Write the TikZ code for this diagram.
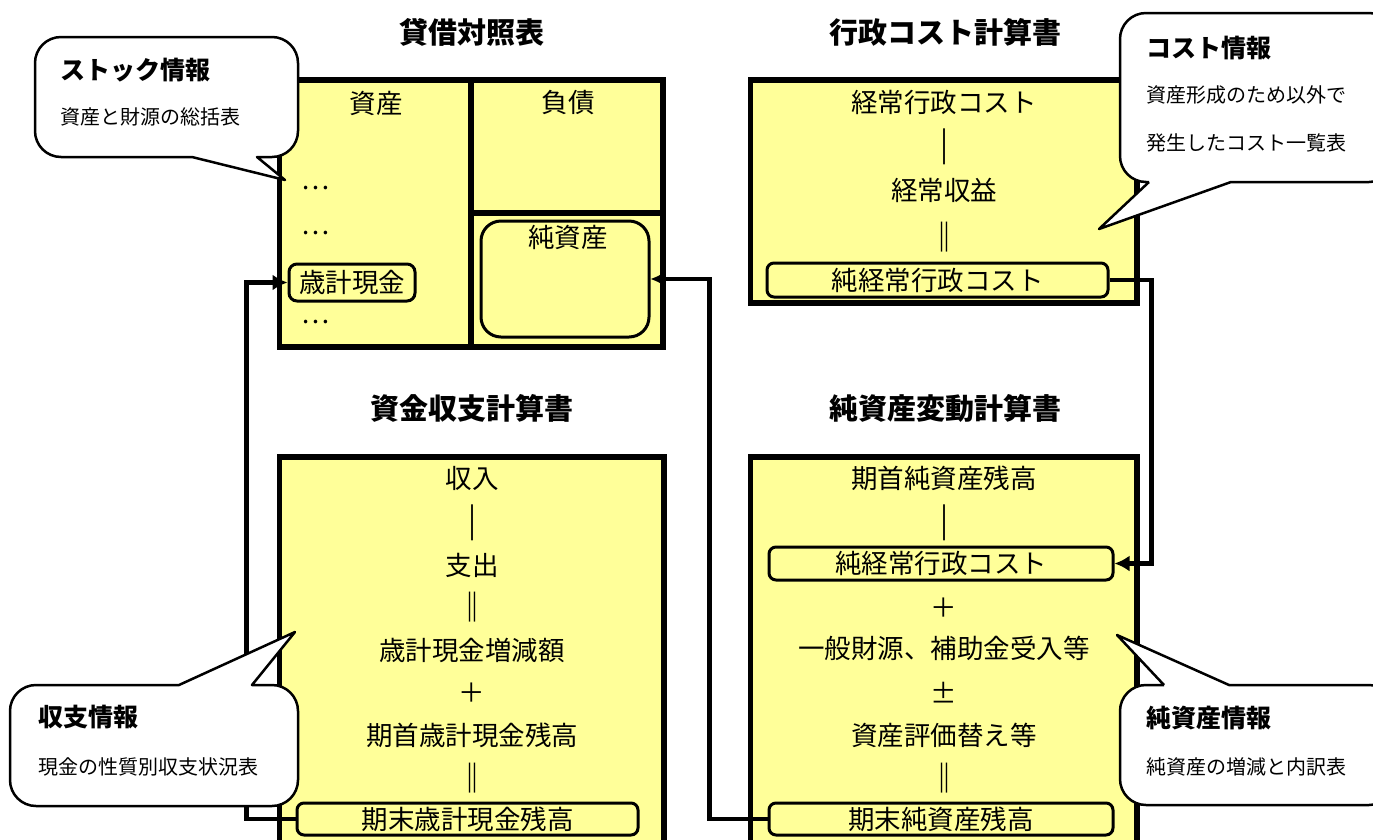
\documentclass[tikz,border=0pt]{standalone}
\usepackage{fontspec}
\setmainfont{Noto Sans CJK JP}
\usetikzlibrary{arrows.meta}
\definecolor{boxyellow}{HTML}{FFFF99}
\tikzset{
 panel/.style={draw, line width=5.5pt, fill=boxyellow, rectangle, inner sep=0pt},
 ttl/.style={font=\fontsize{29}{32}\selectfont\bfseries, inner sep=0pt},
 item/.style={font=\fontsize{26.5}{30}\selectfont, inner sep=0pt},
 bar/.style={font=\fontsize{30}{32}\selectfont\bfseries, inner sep=0pt},
 vbar/.style={font=\fontsize{36}{38}\selectfont\bfseries, inner sep=0pt},
 hl/.style={draw, line width=3pt, rounded corners=7pt, fill=boxyellow, inner sep=0pt, font=\fontsize{26.5}{30}\selectfont},
 conn/.style={line width=4.5pt, -{Latex[length=15pt,width=16pt]}},
 bub/.style={draw, line width=2.5pt, fill=white, line join=round},
 bubttl/.style={font=\fontsize{25}{28}\selectfont\bfseries, anchor=west, inner sep=0pt},
 bubtxt/.style={font=\fontsize{20}{24}\selectfont, anchor=west, inner sep=0pt},
 divider/.style={line width=5.5pt},
}
\begin{document}
\begin{tikzpicture}[x=1pt,y=-1pt]
\useasboundingbox (0,0) rectangle (1373,839);
\clip (0,0) rectangle (1373,839);
% titles
\node[ttl] (t1) at (472,32) {貸借対照表};
\node[ttl] (t2) at (945,32) {行政コスト計算書};
\node[ttl] (t3) at (472,408) {資金収支計算書};
\node[ttl] (t4) at (945,408) {純資産変動計算書};
% panels
\node[panel, minimum width=383.5pt, minimum height=267pt] (bs) at (471.25,213.5) {};
\node[panel, minimum width=386.5pt, minimum height=223pt] (pl) at (943.75,191.5) {};
\node[panel, minimum width=384.5pt, minimum height=403pt] (cf) at (471.75,658.5) {};
\node[panel, minimum width=386.5pt, minimum height=403pt] (na) at (943.75,658.5) {};
\draw[divider] (471,80) -- (471,347);
\draw[divider] (471,213) -- (663,213);
% balance sheet
\node[item] (bsa) at (376,103) {資産};
\node[item] (bsl) at (568,103) {負債};
\node[item] (d1) at (316,188) {…};
\node[item] (d2) at (316,233) {…};
\node[item] (d3) at (316,322) {…};
\node[hl, minimum width=126pt, minimum height=37pt, rounded corners=8pt] (cash) at (352,282.5) {歳計現金};
\node[draw, line width=3pt, rounded corners=20pt, fill=boxyellow, minimum width=168pt, minimum height=116pt] (netassets) at (565,279) {};
\node[item] (nat) at (568,237) {純資産};
% PL
\node[item] (pl1) at (944,102) {経常行政コスト};
\node[vbar] (pl2) at (944,147) {｜};
\node[item] (pl3) at (944,190) {経常収益};
\node[bar] (pl4) at (944,237) {‖};
\node[hl, minimum width=341pt, minimum height=34pt] (plnet) at (937.5,280) {純経常行政コスト};
% CF
\node[item] (cf1) at (472,478) {収入};
\node[vbar] (cf2) at (472,523) {｜};
\node[item] (cf3) at (472,565) {支出};
\node[bar] (cf4) at (472,607) {‖};
\node[item] (cf5) at (472,650) {歳計現金増減額};
\node[item] (cf6) at (472,693) {＋};
\node[item] (cf7) at (472,735) {期首歳計現金残高};
\node[bar] (cf8) at (472,778) {‖};
\node[hl, minimum width=341pt, minimum height=32pt] (cfend) at (467.5,819) {期末歳計現金残高};
% NA
\node[item] (na1) at (944,478) {期首純資産残高};
\node[vbar] (na2) at (944,523) {｜};
\node[hl, minimum width=344pt, minimum height=33pt] (nanet) at (941,563.5) {純経常行政コスト};
\node[item] (na3) at (944,608) {＋};
\node[item] (na4) at (944,648) {一般財源、補助金受入等};
\node[item] (na5) at (944,693) {±};
\node[item] (na6) at (944,735) {資産評価替え等};
\node[bar] (na7) at (944,778) {‖};
\node[hl, minimum width=344pt, minimum height=32pt] (naend) at (941,819) {期末純資産残高};
% connectors
\draw[conn] (plnet.east) -- ++(42,0) |- (nanet.east);
\draw[conn] (naend.west) -- ++(-58,0) |- (netassets.east);
\draw[conn] (cfend.west) -- ++(-49,0) |- (cash.west);
% bubbles
\draw[bub] (192,157) -- (285,180) -- (257,157) [rounded corners=26pt] -- (298,157) -- (298,37) -- (35,37) -- (35,157) -- (192,157);
\node[bubttl] (b1t) at (60,70) {ストック情報};
\node[bubtxt] (b1s) at (60,117) {資産と財源の総括表};
\draw[bub] (1149,182) -- (1099,229) -- (1231,182) [rounded corners=26pt] -- (1395,182) -- (1395,13) -- (1120,13) -- (1120,182) -- (1149,182);
\node[bubttl] (b2t) at (1146,48) {コスト情報};
\node[bubtxt] (b2s) at (1146,95) {資産形成のため以外で};
\node[bubtxt] (b2u) at (1146,143) {発生したコスト一覧表};
\draw[bub] (179,685) -- (295,632) -- (252,685) [rounded corners=26pt] -- (298,685) -- (298,806) -- (10,806) -- (10,685) -- (179,685);
\node[bubttl] (b3t) at (38,717) {収支情報};
\node[bubtxt] (b3s) at (38,767) {現金の性質別収支状況表};
\draw[bub] (1164,685) -- (1117,635) -- (1229,685) [rounded corners=26pt] -- (1395,685) -- (1395,805) -- (1120,805) -- (1120,685) -- (1164,685);
\node[bubttl] (b4t) at (1146,718) {純資産情報};
\node[bubtxt] (b4s) at (1146,767) {純資産の増減と内訳表};
\end{tikzpicture}
\end{document}
